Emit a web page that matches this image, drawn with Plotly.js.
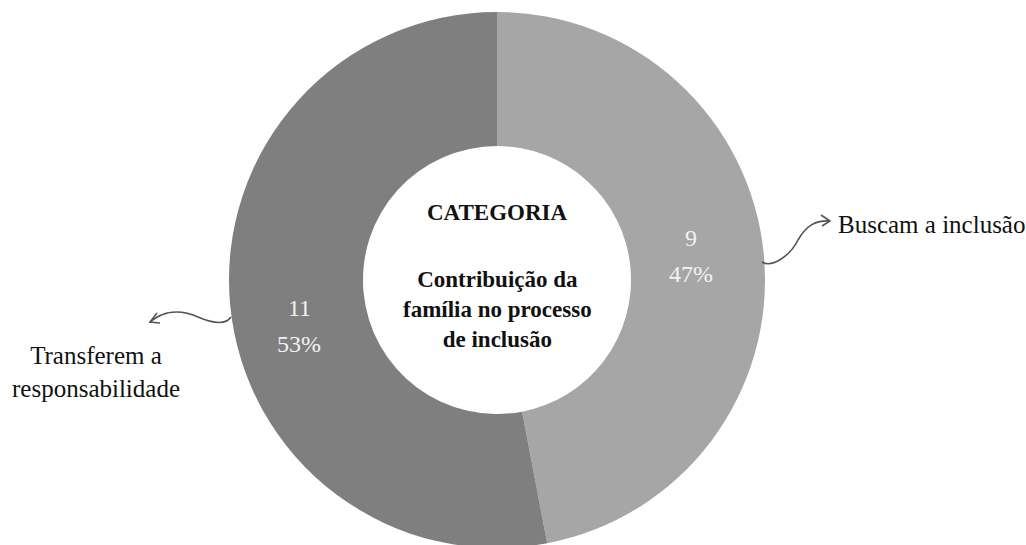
<!DOCTYPE html>
<html>
<head>
<meta charset="utf-8">
<script src="https://cdn.plot.ly/plotly-3.0.1.min.js"></script>
<style>
html,body{margin:0;padding:0;overflow:hidden;background:#fff;}
#chart{width:1026px;height:560px;}
</style>
</head>
<body>
<div id="chart"></div>
<script>
// Data
const categories = ["Buscam a inclusão", "Transferem a<br>responsabilidade"];
const counts = [9, 11];
const percents = [47, 53];
const sliceColors = ["#a6a6a6", "#7f7f7f"];
const centerTitle = "CATEGORIA";
const centerSubtitle = "Contribuição da<br>família no processo<br>de inclusão";

const W = 1026, H = 560;
const cx = 497, cy = 280, R = 268;
const px = x => x / W;
const py = y => 1 - y / H;

const trace = {
  type: "pie",
  values: percents,
  labels: categories,
  sort: false,
  direction: "clockwise",
  rotation: 0,
  hole: 0.5,
  textinfo: "none",
  hoverinfo: "label+value",
  marker: {colors: sliceColors, line: {width: 0}},
  domain: {x: [(cx - R) / W, (cx + R) / W], y: [(H - cy - R) / H, (H - cy + R) / H]},
  showlegend: false
};

const serif = "Liberation Serif";
const sliceFont = {family: serif, size: 24, color: "#f2f2f2"};
// slice label anchor points (pixels)
const sliceLabelPos = [[691, 256], [299, 326]];

const annotations = [];
counts.forEach((c, i) => {
  const [lx, ly] = sliceLabelPos[i];
  annotations.push({x: px(lx), y: py(ly - 18), text: String(c), font: sliceFont});
  annotations.push({x: px(lx), y: py(ly + 18), text: percents[i] + "%", font: sliceFont});
});
annotations.push(
  {x: px(497), y: py(212), text: "<b>" + centerTitle + "</b>", font: {family: serif, size: 23, color: "#111"}},
  {x: px(497), y: py(309), text: "<b>" + centerSubtitle + "</b>", font: {family: serif, size: 23, color: "#111"}},
  {x: px(836), y: py(224), xanchor: "left", text: categories[0], font: {family: serif, size: 25, color: "#111"}},
  {x: px(96), y: py(372), text: categories[1], font: {family: serif, size: 25, color: "#111"}}
);
const anns = annotations.map(a => Object.assign({xref: "paper", yref: "paper", showarrow: false, align: "center", xanchor: "center", yanchor: "middle"}, a));

const lineStyle = {color: "#555", width: 1.6};
const shapes = [
  // right curvy arrow
  {type: "path", xref: "paper", yref: "paper",
   path: `M ${px(762)} ${py(262)} C ${px(772)} ${py(268)} ${px(790)} ${py(256)} ${px(798)} ${py(240)} C ${px(806)} ${py(226)} ${px(815)} ${py(220)} ${px(830)} ${py(221)}`,
   line: lineStyle},
  {type: "path", xref: "paper", yref: "paper",
   path: `M ${px(821)} ${py(215)} L ${px(830)} ${py(221)} L ${px(822)} ${py(226)}`,
   line: lineStyle},
  // left curvy arrow
  {type: "path", xref: "paper", yref: "paper",
   path: `M ${px(231)} ${py(317)} C ${px(225)} ${py(326)} ${px(212)} ${py(323)} ${px(198)} ${py(317)} C ${px(180)} ${py(309)} ${px(163)} ${py(311)} ${px(150)} ${py(322)}`,
   line: lineStyle},
  {type: "path", xref: "paper", yref: "paper",
   path: `M ${px(157)} ${py(313)} L ${px(150)} ${py(322)} L ${px(160)} ${py(323)}`,
   line: lineStyle}
];

const layout = {
  width: W, height: H,
  margin: {l: 0, r: 0, t: 0, b: 0},
  paper_bgcolor: "#ffffff",
  annotations: anns,
  shapes: shapes
};

Plotly.newPlot("chart", [trace], layout, {displayModeBar: false, staticPlot: true});
</script>
</body>
</html>
